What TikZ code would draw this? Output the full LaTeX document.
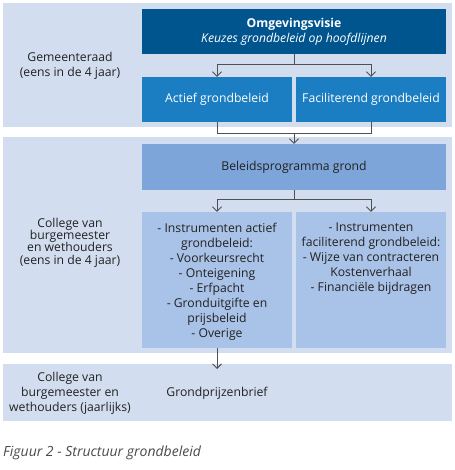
\documentclass[tikz,border=0pt]{standalone}
\usepackage{fontspec}
\setmainfont{Open Sans}
\usetikzlibrary{arrows.meta}
\definecolor{bandc}{HTML}{D2DEF0}
\definecolor{darkb}{HTML}{00558F}
\definecolor{midb}{HTML}{1B7DC2}
\definecolor{progb}{HTML}{7DA5D9}
\definecolor{instb}{HTML}{A9C2E7}
\definecolor{txt}{HTML}{222222}
\definecolor{linec}{HTML}{505050}
\definecolor{capc}{HTML}{4A4A4A}
\tikzset{
  band/.style={rectangle, fill=bandc, inner sep=0pt, minimum width=449pt},
  bluebox/.style={rectangle, inner sep=0pt, text=white, align=center, font=\fontsize{12.2}{15}\selectfont},
  lighttxt/.style={inner sep=0pt, text=txt, align=center, font=\fontsize{12.2}{15}\selectfont},
  tight/.style={font=\fontsize{12.2}{12.4}\selectfont},
  conn/.style={draw=linec, line width=0.9pt},
  arr/.style={conn, -{Straight Barb[length=4.5pt,width=9pt,line width=0.9pt]}}
}
\begin{document}
\begin{tikzpicture}[x=1pt,y=-1pt]
\useasboundingbox (0,0) rectangle (454,470);
% bands
\node[band, minimum height=124pt] (band1) at (227.5,65) {};
\node[band, minimum height=216pt] (band2) at (227.5,245) {};
\node[band, minimum height=57pt] (band3) at (227.5,392.5) {};
% boxes
\node[bluebox, fill=darkb, minimum width=304pt, minimum height=45pt] (omg) at (294,31.5)
  {\textbf{Omgevingsvisie}\\\textit{Keuzes grondbeleid op hoofdlijnen}};
\node[bluebox, fill=midb, minimum width=150pt, minimum height=45pt] (actief) at (217,99.5) {Actief grondbeleid};
\node[bluebox, fill=midb, minimum width=150pt, minimum height=45pt] (facil) at (371,99.5) {Faciliterend grondbeleid};
\node[lighttxt, fill=progb, minimum width=304pt, minimum height=46pt] (beleid) at (294,167) {Beleidsprogramma grond};
\node[rectangle, fill=instb, inner sep=0pt, minimum width=150pt, minimum height=136pt] (instrA) at (217,280) {};
\node[rectangle, fill=instb, inner sep=0pt, minimum width=150pt, minimum height=136pt] (instrF) at (371,280) {};
\node[lighttxt, anchor=north] (instrAt) at (217,223) {- Instrumenten actief\\grondbeleid:\\- Voorkeursrecht\\- Onteigening\\- Erfpacht\\- Gronduitgifte en\\prijsbeleid\\- Overige};
\node[lighttxt, anchor=north] (instrFt) at (371,223) {- Instrumenten\\faciliterend grondbeleid:\\- Wijze van contracteren\\Kostenverhaal\\- Financiële bijdragen};
% left labels
\node[lighttxt] (lab1) at (70,65.8) {Gemeenteraad\\(eens in de 4 jaar)};
\node[lighttxt, tight] (lab2) at (70,242.5) {College van\\burgemeester\\en wethouders\\(eens in de 4 jaar)};
\node[lighttxt] (lab3) at (70,393) {College van\\burgemeester en\\wethouders (jaarlijks)};
\node[lighttxt] (gpb) at (217,393) {Grondprijzenbrief};
% caption
\node[inner sep=0pt, anchor=west, text=capc, font=\fontsize{14}{16}\selectfont\itshape] (cap) at (3,453) {Figuur 2 - Structuur grondbeleid};
% connectors
\coordinate (j1) at (294,64);
\coordinate (j2) at (294,133);
\coordinate (j3) at (294,199);
\coordinate (e4) at (217,369);
\draw[conn] (omg.south) -- (j1);
\draw[arr] (j1) -| (actief.north);
\draw[arr] (j1) -| (facil.north);
\draw[conn] (actief.south) |- (j2);
\draw[conn] (facil.south) |- (j2);
\draw[arr] (j2) -- (beleid.north);
\draw[conn] (beleid.south) -- (j3);
\draw[arr] (j3) -| (instrA.north);
\draw[arr] (j3) -| (instrF.north);
\draw[arr] (instrA.south) -- (e4);
\end{tikzpicture}
\end{document}
